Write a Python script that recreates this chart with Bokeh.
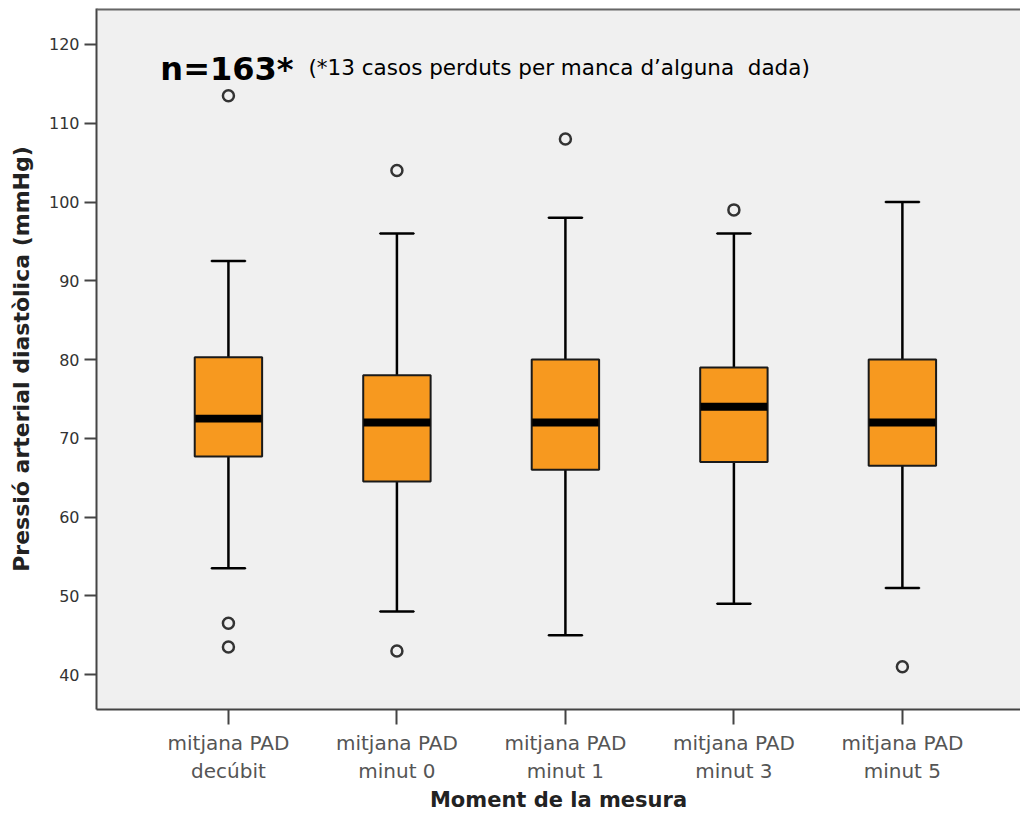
from bokeh.plotting import figure
from bokeh.models import FixedTicker, Label, Span, Range1d, ColumnDataSource
from bokeh.embed import file_html
from bokeh.resources import INLINE

categories = ["mitjana PAD\ndecúbit", "mitjana PAD\nminut 0", "mitjana PAD\nminut 1",
              "mitjana PAD\nminut 3", "mitjana PAD\nminut 5"]
whisker_low = [53.5, 48, 45, 49, 51]
q1 = [67.7, 64.5, 66, 67, 66.5]
median = [72.5, 72, 72, 74, 72]
q3 = [80.3, 78, 80, 79, 80]
whisker_high = [92.5, 96, 98, 96, 100]
outlier_cat = [0, 0, 0, 1, 1, 2, 3, 4]
outlier_val = [113.5, 46.5, 43.5, 104, 43, 108, 99, 41]
y_ticks = [40, 50, 60, 70, 80, 90, 100, 110, 120]

FONT = "DejaVu Sans"
xs = list(range(len(categories)))

p = figure(width=1020, height=816, output_backend="svg", toolbar_location=None,
           x_range=Range1d(-0.783, 4.701), y_range=Range1d(35.56, 124.57),
           min_border_left=96, min_border_top=8, min_border_right=0, min_border_bottom=107)
p.background_fill_color = "#F0F0F0"
p.border_fill_color = "white"
p.outline_line_alpha = 0
p.xgrid.visible = False
p.ygrid.visible = False

p.add_layout(Span(location=124.57, dimension="width", line_color="#666666", line_width=4))

src = ColumnDataSource(dict(x=xs, lo=whisker_low, q1=q1, med=median, q3=q3, hi=whisker_high))
# whiskers
p.segment(x0="x", y0="lo", x1="x", y1="q1", source=src, line_color="black", line_width=2.5)
p.segment(x0="x", y0="q3", x1="x", y1="hi", source=src, line_color="black", line_width=2.5)
p.rect(x="x", y="lo", width=0.2, height=0.0001, source=src, line_color="black", line_width=2.5, fill_alpha=0)
p.rect(x="x", y="hi", width=0.2, height=0.0001, source=src, line_color="black", line_width=2.5, fill_alpha=0)
# boxes
p.vbar(x="x", bottom="q1", top="q3", width=0.4, source=src, fill_color="#F7991F",
       line_color="#1a1a1a", line_width=2)
# median
p.rect(x="x", y="med", width=0.395, height=1.0, source=src, fill_color="black", line_alpha=0)
# outliers
p.scatter(x=outlier_cat, y=outlier_val, marker="circle", size=11, fill_alpha=0,
          line_color="#333333", line_width=2.5)

p.xaxis.ticker = FixedTicker(ticks=xs)
p.xaxis.major_label_overrides = {i: c for i, c in enumerate(categories)}
p.xaxis.major_tick_out = 15
p.xaxis.major_tick_in = 0
p.xaxis.minor_tick_line_alpha = 0
p.xaxis.major_label_standoff = 6
p.xaxis.major_label_text_font = FONT
p.xaxis.major_label_text_font_size = "20px"
p.xaxis.major_label_text_color = "#555555"
p.xaxis.axis_label = "Moment de la mesura"
p.xaxis.axis_label_text_font = FONT
p.xaxis.axis_label_text_font_style = "bold"
p.xaxis.axis_label_text_font_size = "21px"
p.xaxis.axis_label_text_color = "#222222"
p.xaxis.axis_label_standoff = 2

p.yaxis.ticker = FixedTicker(ticks=y_ticks)
p.yaxis.major_tick_out = 12
p.yaxis.major_tick_in = 0
p.yaxis.minor_tick_line_alpha = 0
p.yaxis.major_label_standoff = 5
p.yaxis.major_label_text_font = FONT
p.yaxis.major_label_text_font_size = "16px"
p.yaxis.major_label_text_color = "#333333"
p.yaxis.axis_label = "Pressió arterial diastòlica (mmHg)"
p.yaxis.axis_label_text_font = FONT
p.yaxis.axis_label_text_font_style = "bold"
p.yaxis.axis_label_text_font_size = "22px"
p.yaxis.axis_label_text_color = "#222222"
p.yaxis.axis_label_standoff = 12

for ax in (p.xaxis, p.yaxis):
    ax.axis_line_color = "#444444"
    ax.axis_line_width = 2
    ax.major_tick_line_color = "#444444"
    ax.major_tick_line_width = 2

p.add_layout(Label(x=-0.404, y=116.95, text="n=163*", text_font=FONT, text_font_style="bold",
                   text_font_size="32px", text_color="black", text_baseline="alphabetic"))
p.add_layout(Label(x=0.475, y=117.1, text="(*13 casos perduts per manca d\u2019alguna\u00a0 dada)",
                   text_font=FONT, text_font_size="21.5px", text_color="black",
                   text_baseline="alphabetic"))

open("out.html", "w").write(file_html(p, INLINE))
